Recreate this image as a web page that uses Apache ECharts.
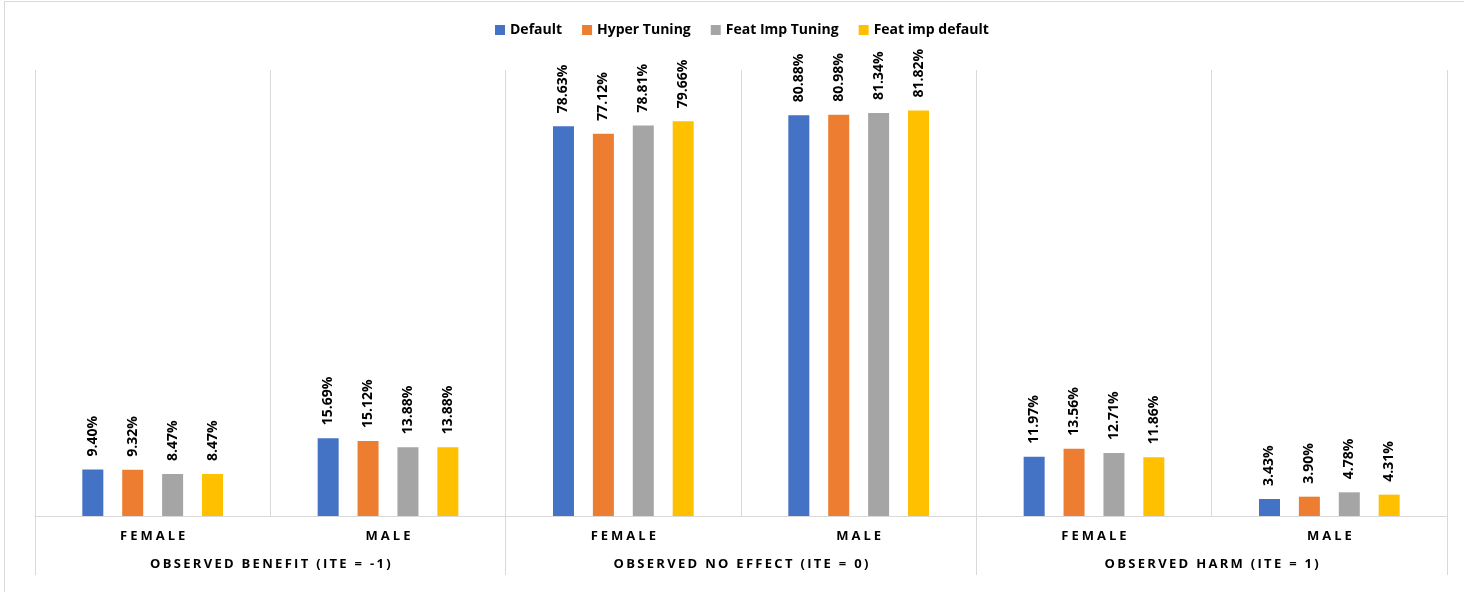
<!DOCTYPE html>
<html>
<head>
<meta charset="utf-8">
<script src="https://cdn.jsdelivr.net/npm/echarts@6/dist/echarts.min.js"></script>
<style>html,body{margin:0;padding:0;background:#fff}#c{width:1464px;height:592px}</style>
</head>
<body>
<div id="c"></div>
<script>
const categories = ['FEMALE', 'MALE', 'FEMALE', 'MALE', 'FEMALE', 'MALE'];
const groups = ['OBSERVED BENEFIT (ITE = -1)', 'OBSERVED NO EFFECT (ITE = 0)', 'OBSERVED HARM (ITE = 1)'];
const seriesNames = ['Default', 'Hyper Tuning', 'Feat Imp Tuning', 'Feat imp default'];
const defaultVals = [9.40, 15.69, 78.63, 80.88, 11.97, 3.43];
const hyperVals = [9.32, 15.12, 77.12, 80.98, 13.56, 3.90];
const featImpTuningVals = [8.47, 13.88, 78.81, 81.34, 12.71, 4.78];
const featImpDefaultVals = [8.47, 13.88, 79.66, 81.82, 11.86, 4.31];
const colors = ['#4472C4', '#ED7D31', '#A5A5A5', '#FFC000'];

const FONT = '"Open Sans", "Noto Sans", sans-serif';
const allVals = [defaultVals, hyperVals, featImpTuningVals, featImpDefaultVals];

// letter-spaced text via rich tokens (one token per character)
function spaced(str) {
  return str.split('').map(ch => '{s|' + ch + '}').join('');
}
function richSpacing(pad) {
  return { s: { fontFamily: FONT, fontSize: 13, fontWeight: 'bold', color: '#000', padding: [0, pad, 0, pad], lineHeight: 16 } };
}

const chart = echarts.init(document.getElementById('c'));
chart.setOption({
  animation: false,
  color: colors,
  textStyle: { fontFamily: FONT },
  graphic: [
    { type: 'line', shape: { x1: 4, y1: 1.5, x2: 1464, y2: 1.5 }, style: { stroke: '#d9d9d9', lineWidth: 1 } },
    { type: 'line', shape: { x1: 4.5, y1: 1, x2: 4.5, y2: 592 }, style: { stroke: '#d9d9d9', lineWidth: 1 } }
  ],
  legend: {
    top: 18,
    left: 490,
    icon: 'rect',
    itemWidth: 10,
    itemHeight: 10,
    itemGap: 20,
    textStyle: { fontFamily: FONT, fontSize: 14, fontWeight: 'bold', color: '#000' },
    data: seriesNames
  },
  grid: { left: 35, right: 17, top: 70, bottom: 76, containLabel: false },
  xAxis: [
    {
      type: 'category',
      data: categories,
      position: 'bottom',
      axisLine: { show: true, lineStyle: { color: '#d9d9d9', width: 1 } },
      axisTick: { show: false },
      splitLine: { show: true, interval: 0, lineStyle: { color: '#d9d9d9', width: 1 } },
      axisLabel: { interval: 0, margin: 12, formatter: v => spaced(v), rich: richSpacing(1.5) }
    },
    {
      type: 'category',
      data: groups,
      position: 'bottom',
      axisLine: { show: false },
      axisTick: { show: true, interval: 0, length: 59, lineStyle: { color: '#d9d9d9', width: 1 } },
      splitLine: { show: false },
      axisLabel: { interval: 0, margin: 40, formatter: v => spaced(v), rich: richSpacing(1.15) }
    }
  ],
  yAxis: {
    type: 'value',
    min: 0,
    max: 90,
    show: false,
    splitLine: { show: false }
  },
  series: seriesNames.map((name, i) => ({
    name: name,
    type: 'bar',
    xAxisIndex: 0,
    data: allVals[i],
    barWidth: 21,
    barGap: '90%',
    itemStyle: { color: colors[i] },
    label: {
      show: true,
      position: 'top',
      rotate: 90,
      align: 'left',
      verticalAlign: 'middle',
      distance: 13,
      fontFamily: FONT,
      fontSize: 14,
      fontWeight: 'bold',
      color: '#000',
      formatter: p => p.value.toFixed(2) + '%'
    }
  }))
});
</script>
</body>
</html>
